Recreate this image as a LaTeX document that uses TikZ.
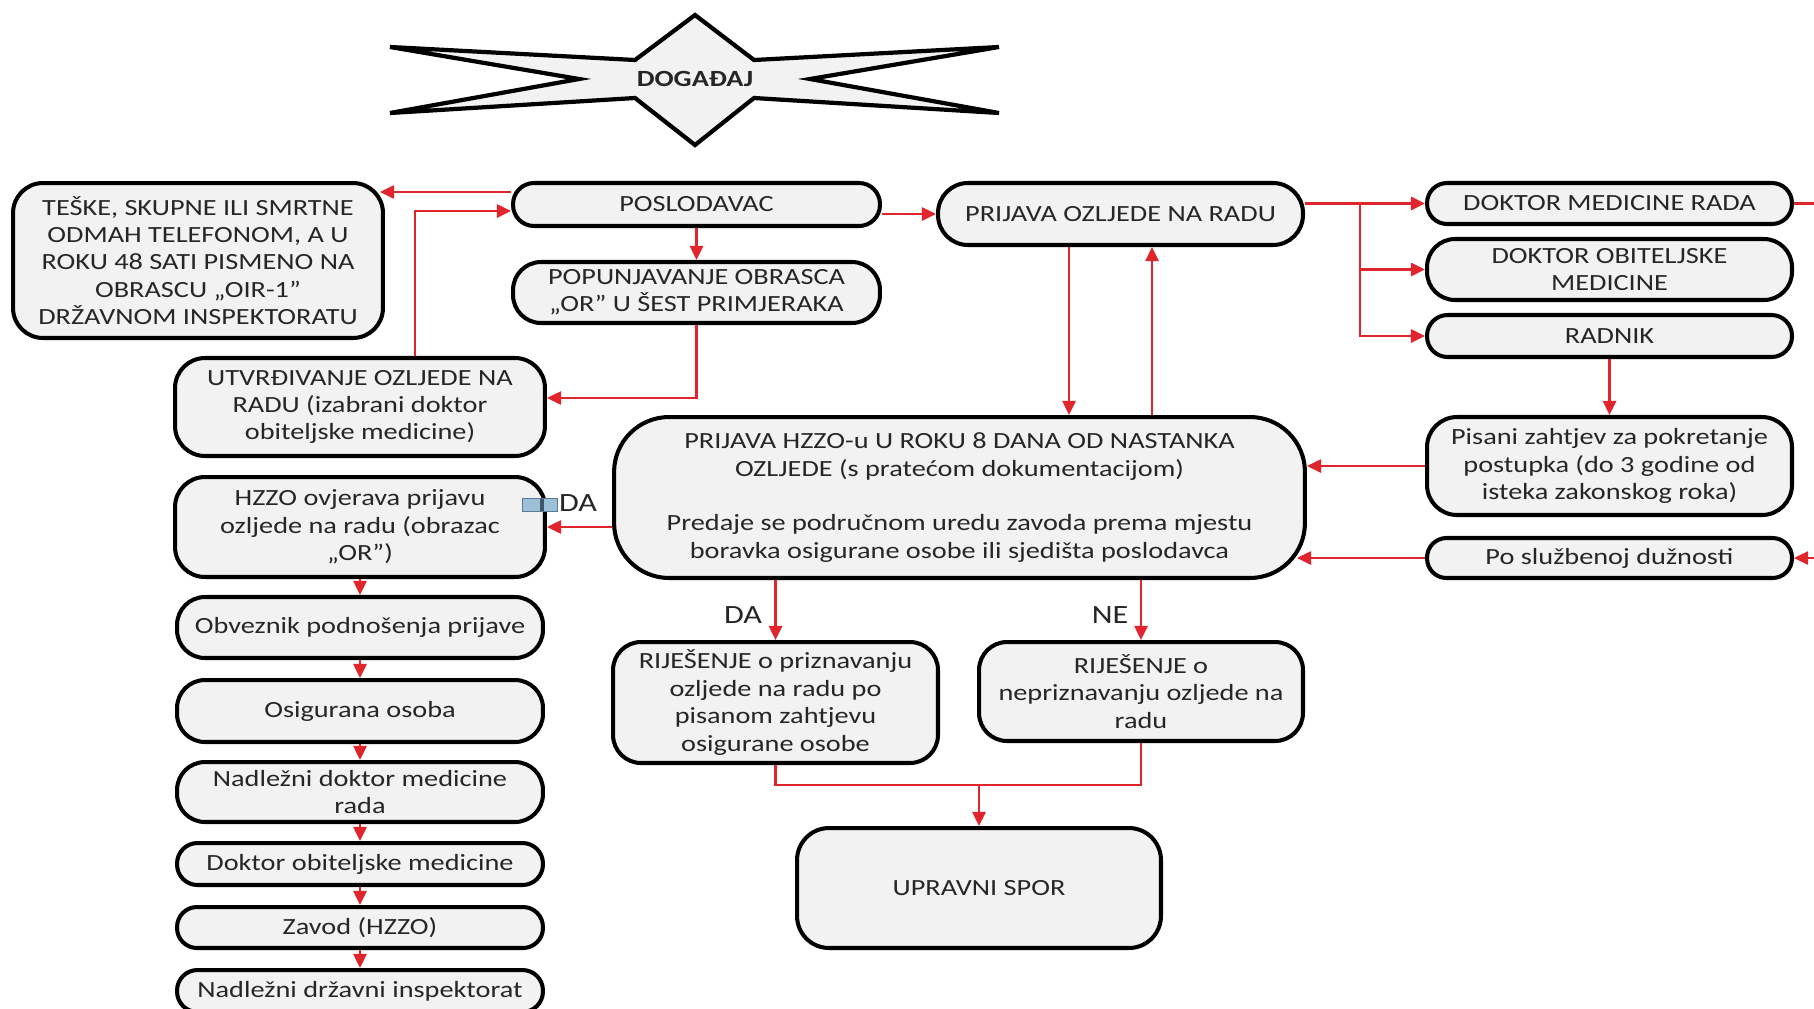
\documentclass[tikz,border=0pt]{standalone}
\usepackage{fontspec}
\setmainfont{Carlito}[FakeStretch=1.22]
\usetikzlibrary{arrows.meta,calc}
\definecolor{rd}{HTML}{E0262C}
\definecolor{bxfill}{HTML}{F2F2F2}
\definecolor{txt}{HTML}{262626}
\definecolor{icoedge}{HTML}{5A7A95}
\definecolor{icofill}{HTML}{9CC0D8}
\begin{document}
\begin{tikzpicture}[x=0.02cm,y=-0.02cm,
  box/.style={draw=black, line width=2.3pt, fill=bxfill, inner sep=0pt, align=center, text=txt, font=\fontsize{13.2}{15.6}\selectfont},
  redline/.style={draw=rd, line width=1.2pt},
  arr/.style={redline, -{Triangle[length=8pt,width=7.5pt]}},
  lbl/.style={text=txt, font=\fontsize{15}{17}\selectfont, inner sep=0pt}]
\clip (0,0) rectangle (1814,1008);
\fill[white] (0,0) rectangle (1814,1008);

% star
\draw[line width=2.4pt, fill=bxfill, line join=miter]
  (390,47) -- (635,60) -- (695,15) -- (754,60) -- (999,47) -- (810,79) -- (999,113)
  -- (754,98) -- (695,145) -- (635,98) -- (390,113) -- (579,79) -- cycle;
\node[inner sep=0pt, text=txt, font=\bfseries\fontsize{13.2}{15.6}\selectfont] (dog) at (695,79) {DOGAĐAJ};

% boxes
\node[box, minimum width=7.40cm, minimum height=3.10cm, rounded corners=0.6cm] (teske) at (198,260.5)
  {TEŠKE, SKUPNE ILI SMRTNE\\ODMAH TELEFONOM, A U\\ROKU 48 SATI PISMENO NA\\OBRASCU „OIR-1"\\DRŽAVNOM INSPEKTORATU};
\node[box, minimum width=7.34cm, minimum height=0.86cm, rounded corners=0.42cm] (posl) at (696.5,204.5) {POSLODAVAC};
\node[box, minimum width=7.34cm, minimum height=1.22cm, rounded corners=0.56cm] (popu) at (696.5,292.5)
  {POPUNJAVANJE OBRASCA\\„OR” U ŠEST PRIMJERAKA};
\node[box, minimum width=7.30cm, minimum height=1.24cm, rounded corners=0.6cm] (prijava) at (1120.5,214) {PRIJAVA OZLJEDE NA RADU};
\node[box, minimum width=7.30cm, minimum height=0.82cm, rounded corners=0.40cm] (dmr) at (1609.5,203.5) {DOKTOR MEDICINE RADA};
\node[box, minimum width=7.30cm, minimum height=1.22cm, rounded corners=0.56cm] (dom) at (1609.5,269.5) {DOKTOR OBITELJSKE\\MEDICINE};
\node[box, minimum width=7.30cm, minimum height=0.84cm, rounded corners=0.41cm] (radnik) at (1609.5,336) {RADNIK};
\node[box, minimum width=7.40cm, minimum height=1.96cm, rounded corners=0.6cm] (utvr) at (360,407)
  {UTVRĐIVANJE OZLJEDE NA\\RADU (izabrani doktor\\obiteljske medicine)};
\node[box, minimum width=13.82cm, minimum height=3.22cm, rounded corners=1.1cm] (hzzo) at (959.5,497.5)
  {PRIJAVA HZZO-u U ROKU 8 DANA OD NASTANKA\\OZLJEDE (s pratećom dokumentacijom)\\[15.6pt]Predaje se područnom uredu zavoda prema mjestu\\boravka osigurane osobe ili sjedišta poslodavca};
\node[box, minimum width=7.30cm, minimum height=1.96cm, rounded corners=0.6cm] (pisani) at (1609.5,466)
  {Pisani zahtjev za pokretanje\\postupka (do 3 godine od\\isteka zakonskog roka)};
\node[box, minimum width=7.30cm, minimum height=0.80cm, rounded corners=0.39cm] (sluz) at (1609.5,558) {Po službenoj dužnosti};
\node[box, minimum width=7.40cm, minimum height=2.00cm, rounded corners=0.6cm] (ovjer) at (360,527)
  {HZZO ovjerava prijavu\\ozljede na radu (obrazac\\„OR”)};
\node[box, minimum width=7.32cm, minimum height=1.22cm, rounded corners=0.56cm] (obv) at (360,627.5) {Obveznik podnošenja prijave};
\node[box, minimum width=7.32cm, minimum height=1.24cm, rounded corners=0.56cm] (osig) at (360,711) {Osigurana osoba};
\node[box, minimum width=7.32cm, minimum height=1.20cm, rounded corners=0.56cm] (nadl) at (360,792) {Nadležni doktor medicine\\rada};
\node[box, minimum width=7.32cm, minimum height=0.84cm, rounded corners=0.41cm] (dob) at (360,864) {Doktor obiteljske medicine};
\node[box, minimum width=7.32cm, minimum height=0.82cm, rounded corners=0.40cm] (zavod) at (360,927.5) {Zavod (HZZO)};
\node[box, minimum width=7.32cm, minimum height=0.84cm, rounded corners=0.41cm] (ndi) at (360,991) {Nadležni državni inspektorat};
\node[box, minimum width=6.50cm, minimum height=2.42cm, rounded corners=0.56cm] (rpriz) at (775.5,702.5)
  {RIJEŠENJE o priznavanju\\ozljede na radu po\\pisanom zahtjevu\\osigurane osobe};
\node[box, minimum width=6.48cm, minimum height=1.98cm, rounded corners=0.56cm] (rnep) at (1141,691.5)
  {RIJEŠENJE o\\nepriznavanju ozljede na\\radu};
\node[box, minimum width=7.28cm, minimum height=2.40cm, rounded corners=0.64cm] (upravni) at (979,888) {UPRAVNI SPOR};

% connectors
\draw[arr] ($(posl.west)+(0,-12.5)$) -- ($(teske.east)+(-5,-68.5)$);
\draw[arr] ($(utvr.north)+(55,0)$) |- ($(posl.west)+(0,6.5)$);
\draw[arr] (posl.south) -- (popu.north);
\draw[arr] (posl.east |- prijava.west) -- (prijava.west);
\draw[arr] (popu.south) |- ($(utvr.east)+(0,-9)$);
\draw[arr] ($(prijava.south)+(-51.5,0)$) -- ($(prijava.south |- hzzo.north)+(-51.5,0)$);
\draw[arr] ($(prijava.south |- hzzo.north)+(31.5,0)$) -- ($(prijava.south)+(31.5,0)$);
\draw[arr] (prijava.east |- dmr.west) -- (dmr.west);
\coordinate (br) at ($(prijava.east |- dmr.west)+(55,0)$);
\draw[arr] (br) |- (dom.west);
\draw[arr] (br) |- (radnik.west);
\coordinate (edgeT) at ($(dmr.east)+(30,0)$);
\coordinate (edgeB) at ($(sluz.east)+(30,0)$);
\draw[redline] (dmr.east) -- (edgeT);
\draw[arr] (edgeB) -- (sluz.east);
\draw[arr] (radnik.south) -- (pisani.north);
\draw[arr] (pisani.west) -- (pisani.west -| hzzo.east);
\draw[arr] (sluz.west) -- ($(sluz.west -| hzzo.east)+(-10,0)$);
\draw[arr] (hzzo.west |- ovjer.east) -- (ovjer.east);
\draw[arr] (ovjer.south) -- (obv.north);
\draw[arr] (obv.south) -- (osig.north);
\draw[arr] (osig.south) -- (nadl.north);
\draw[arr] (nadl.south) -- (dob.north);
\draw[arr] (dob.south) -- (zavod.north);
\draw[arr] (zavod.south) -- (ndi.north);
\draw[arr] (hzzo.south -| rpriz.north) -- (rpriz.north);
\draw[arr] (hzzo.south -| rnep.north) -- (rnep.north);
\coordinate (mrg) at ($(upravni.north)+(0,-41)$);
\draw[redline] (rpriz.south) |- (mrg) -| (rnep.south);
\draw[arr] (mrg) -- (upravni.north);

% labels
\node[lbl] (da1) at (743,615) {DA};
\node[lbl] (ne) at (1110,615) {NE};
\node[draw=icoedge, line width=0.8pt, fill=icofill, minimum width=0.70cm, minimum height=0.26cm, inner sep=0pt] (ico) at (540,505) {};
\draw[line width=2.5pt, icoedge!70!black] ($(ico.north)+(2,1)$) -- ($(ico.south)+(2,-1)$);
\node[lbl] (da2) at (578,503) {DA};
\end{tikzpicture}
\end{document}
